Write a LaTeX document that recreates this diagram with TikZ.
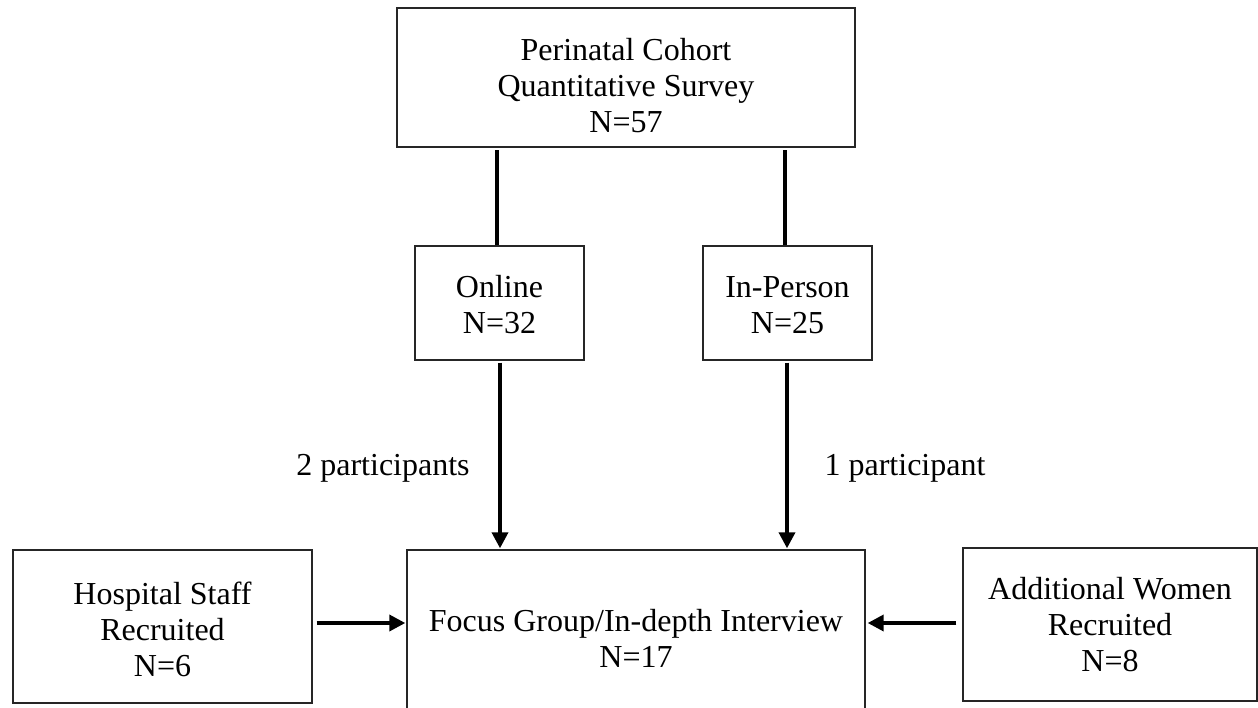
\documentclass[tikz,border=0pt]{standalone}
\usepackage{fontspec}
\setmainfont{Liberation Serif}
\usetikzlibrary{arrows.meta,calc}
\begin{document}
\begin{tikzpicture}[x=1pt,y=-1pt,
  box/.style={draw=black!85,line width=1.4pt,align=center,inner sep=0pt,
    font=\fontsize{32}{36}\selectfont},
  conn/.style={line width=3.6pt,black},
  arr/.style={conn,-{Triangle[length=16pt,width=16pt]}},
  lbl/.style={font=\fontsize{32}{36}\selectfont,inner sep=0pt}]
\useasboundingbox (0,0) rectangle (1258,707);
\node[box,minimum width=458,minimum height=139] (top) at (626,77.5)
  {\rule{0pt}{38pt}Perinatal Cohort\\Quantitative Survey\\N=57};
\node[box,minimum width=169,minimum height=114] (online) at (499.5,303)
  {\rule{0pt}{26pt}Online\\N=32};
\node[box,minimum width=169,minimum height=114] (inperson) at (787.5,303)
  {\rule{0pt}{26pt}In-Person\\N=25};
\node[box,minimum width=458,minimum height=176] (focus) at (636,638)
  {Focus Group/In-depth Interview\\N=17};
\node[box,minimum width=299,minimum height=153] (hosp) at (162.5,626.5)
  {\rule{0pt}{28pt}Hospital Staff\\Recruited\\N=6};
\node[box,minimum width=294,minimum height=153] (addw) at (1110,624.5)
  {Additional Women\\Recruited\\N=8};
\draw[conn] ($(online.north)+(-2.5,0)$) -- ($(online.north |- top.south)+(-2.5,2)$);
\draw[conn] ($(inperson.north)+(-2.5,0)$) -- ($(inperson.north |- top.south)+(-2.5,2)$);
\draw[arr] ($(online.south)+(0.5,2)$) -- ($(online.south |- focus.north)+(0.5,-1)$);
\draw[arr] ($(inperson.south)+(-0.5,2)$) -- ($(inperson.south |- focus.north)+(-0.5,-1)$);
\draw[arr] ($(hosp.east)+(4,-3.5)$) -- ($(focus.west |- hosp.east)+(-1,-3.5)$);
\draw[arr] ($(addw.west)+(-6,-1.5)$) -- ($(focus.east |- addw.west)+(2,-1.5)$);
\node[lbl] (l1) at (383,468) {2 participants};
\node[lbl] (l2) at (905,468) {1 participant};
\end{tikzpicture}
\end{document}
